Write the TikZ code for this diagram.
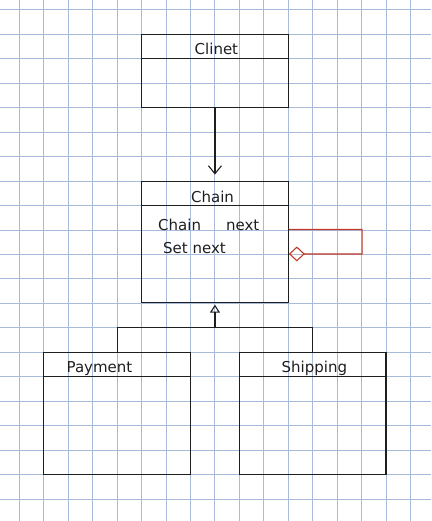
\documentclass[tikz,border=0pt]{standalone}
\usepackage{fontspec}
\setmainfont{DejaVu Sans}
\usetikzlibrary{arrows.meta,calc}
\definecolor{gridblue}{RGB}{168,187,219}
\definecolor{umlred}{RGB}{192,57,43}
\definecolor{ink}{RGB}{30,30,30}
\begin{document}
\begin{tikzpicture}[x=1pt,y=-1pt,
  umlbox/.style={draw=ink, line width=1.1pt, inner sep=0pt, minimum width=146.7pt},
  txt/.style={font=\fontsize{15}{18}\selectfont, text=ink, inner sep=0pt},
  conn/.style={draw=ink, line width=1.1pt},
  divider/.style={draw=ink, line width=1.1pt}]
\useasboundingbox (0,0) rectangle (431,521);
% grid paper
\foreach \k in {0,...,16} \draw[gridblue, line width=1pt] ({19.3+24.45*\k},0) -- ({19.3+24.45*\k},521);
\foreach \k in {0,...,21} \draw[gridblue, line width=1pt] (0,{10+24.45*\k}) -- (431,{10+24.45*\k});
% boxes
\node[umlbox, minimum height=73.35pt] (clinet) at (214.95,71.125) {};
\node[umlbox, minimum height=121.45pt] (chain) at (214.95,241.875) {};
\node[umlbox, minimum height=122.25pt] (payment) at (117.1,413.425) {};
\node[umlbox, minimum height=122.25pt] (shipping) at (312.675,413.425) {};
% dividers
\draw[divider] ($(clinet.north west)+(0,24.45)$) -- ($(clinet.north east)+(0,24.45)$);
\draw[divider] ($(chain.north west)+(0,24.45)$) -- ($(chain.north east)+(0,24.45)$);
\draw[divider] ($(payment.north west)+(0,24.45)$) -- ($(payment.north east)+(0,24.45)$);
\draw[divider] ($(shipping.north west)+(0,24.45)$) -- ($(shipping.north east)+(0,24.45)$);
% texts
\node[txt, anchor=base] (clinetT) at (216.4,55) {Clinet};
\node[txt, anchor=base] (chainT) at (212.5,202) {Chain};
\node[txt, anchor=base west] (attr) at (158,230) {Chain\hspace{25pt}next};
\node[txt, anchor=base west] (oper) at (163,253) {Set next};
\node[txt, anchor=base] (paymentT) at (99.5,372) {Payment};
\node[txt, anchor=base] (shippingT) at (314.4,372) {Shipping};
% association Clinet -> Chain
\draw[conn, -{Straight Barb[length=8pt,width=13pt]}, shorten >=6pt] (clinet.south) -- (chain.north);
% generalization
\coordinate (bus) at (214.95,327.85);
\draw[conn] (payment.north) |- (bus) -| (shipping.north);
\draw[conn, -{Triangle[open,length=8pt,width=10pt]}, shorten >=1.5pt] (bus) -- (chain.south);
% self aggregation
\draw[umlred, line width=1.1pt, -{Diamond[open,length=16pt,width=15pt]}]
  ($(chain.north east)+(0,48.9)$) -- ++(73.3,0) -- ++(0,24.45) -- ($(chain.north east)+(0,73.35)$);
\end{tikzpicture}
\end{document}
